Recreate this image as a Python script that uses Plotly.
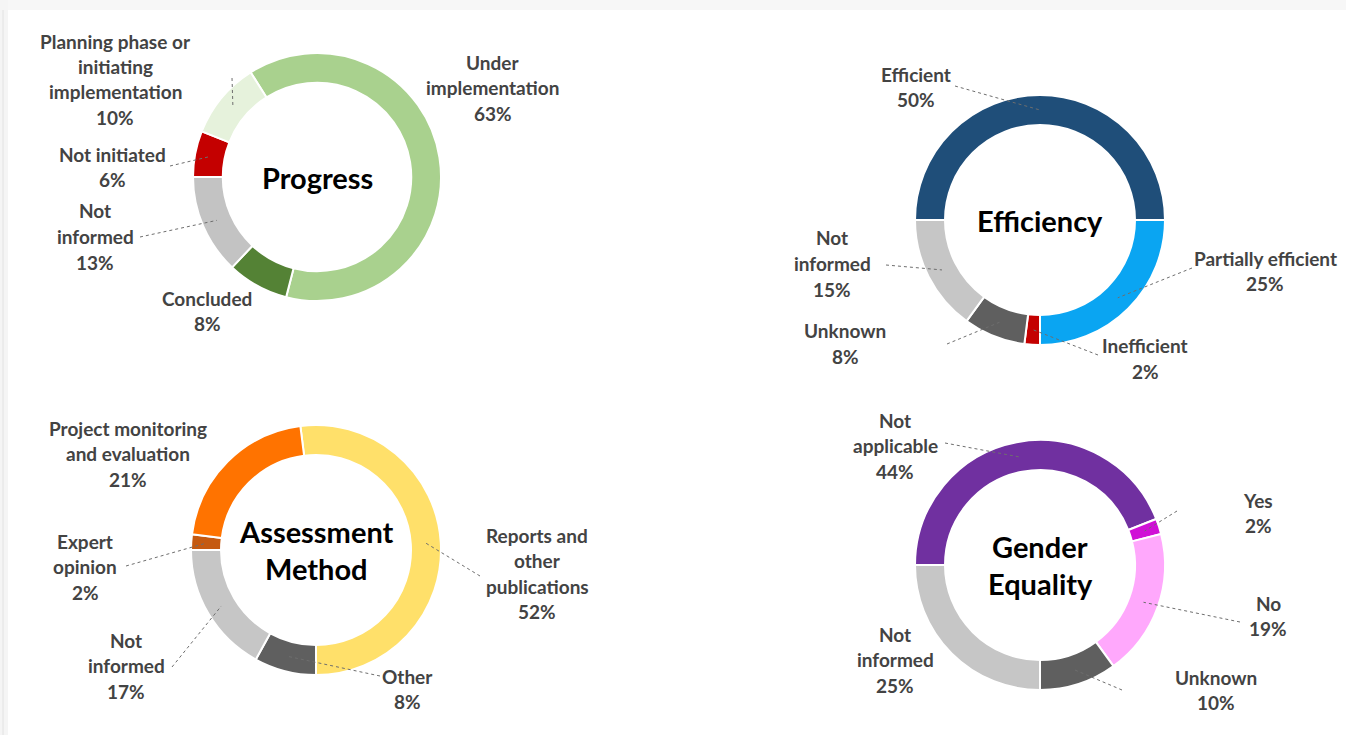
import math
import plotly.graph_objects as go

W, H = 1346, 735

# ---------------- data ----------------
progress_labels = ["Under implementation", "Concluded", "Not informed", "Not initiated",
                   "Planning phase or initiating implementation"]
progress_values = [63, 8, 13, 6, 10]
progress_colors = ["#a9d18e", "#548235", "#c3c3c3", "#c40000", "#e6f2dc"]

efficiency_labels = ["Efficient", "Partially efficient", "Inefficient", "Unknown", "Not informed"]
efficiency_values = [50, 25, 2, 8, 15]
efficiency_colors = ["#1f4e79", "#0aa5f2", "#c40000", "#5f5f5f", "#c6c6c6"]

method_labels = ["Reports and other publications", "Other", "Not informed", "Expert opinion",
                 "Project monitoring and evaluation"]
method_values = [52, 8, 17, 2, 21]
method_colors = ["#ffe06a", "#5f5f5f", "#c6c6c6", "#c55a11", "#ff7300"]

gender_labels = ["Not applicable", "Yes", "No", "Unknown", "Not informed"]
gender_values = [44, 2, 19, 10, 25]
gender_colors = ["#7030a0", "#d010d6", "#ffa8fc", "#5f5f5f", "#c6c6c6"]

# ---------------- layout (pixel positions) ----------------
# chart: (title lines, labels, values, colors, center x, center y, radius, rotation)
charts = [
    (["Progress"], progress_labels, progress_values, progress_colors, 317, 177, 124, 327.6),
    (["Efficiency"], efficiency_labels, efficiency_values, efficiency_colors, 1040, 220, 125, 270),
    (["Assessment", "Method"], method_labels, method_values, method_colors, 316, 550, 125, 352.8),
    (["Gender", "Equality"], gender_labels, gender_values, gender_colors, 1040, 565, 125, 270),
]
HOLE = 0.76

# label placement per chart, in slice order: (text lines, center x, first-line y, leader outer end or None)
label_layout = [
    [
        (["Under", "implementation"], 493, 62, None),
        (["Concluded"], 207, 298, None),
        (["Not", "informed"], 95, 211, (140, 237)),
        (["Not initiated"], 112, 154, (170, 166)),
        (["Planning phase or", "initiating", "implementation"], 115, 41, (232, 78)),
    ],
    [
        (["Efficient"], 916, 74, (955, 86)),
        (["Partially efficient"], 1265, 258, (1192, 268)),
        (["Inefficient"], 1145, 346, (1098, 355)),
        (["Unknown"], 845, 331, (947, 344)),
        (["Not", "informed"], 832, 238, (886, 265)),
    ],
    [
        (["Reports and", "other", "publications"], 537, 535, (480, 576)),
        (["Other"], 408, 676, (380, 676)),
        (["Not", "informed"], 126, 640, (172, 667)),
        (["Expert", "opinion"], 85, 541, (126, 566)),
        (["Project monitoring", "and evaluation"], 128, 428, None),
    ],
    [
        (["Not", "applicable"], 895, 420, (945, 443)),
        (["Yes"], 1258, 500, (1177, 511)),
        (["No"], 1268, 603, (1240, 622)),
        (["Unknown"], 1216, 677, (1122, 690)),
        (["Not", "informed"], 895, 634, None),
    ],
]

LINE_H = 25.5
LABEL_FONT = dict(family="Lato, Open Sans, sans-serif", size=19, color="#434343", weight="bold")
TITLE_FONT = dict(family="Lato, Open Sans, sans-serif", size=29, color="#000000", weight="bold")


def px(x):
    return x / W


def py(y):
    return 1 - y / H


fig = go.Figure()
annotations = []
shapes = []

# page frame
shapes.append(dict(type="rect", xref="paper", yref="paper", x0=0, x1=1, y0=py(10), y1=1,
                   fillcolor="#f7f7f7", line=dict(width=0), layer="below"))
shapes.append(dict(type="rect", xref="paper", yref="paper", x0=0, x1=px(8), y0=0, y1=1,
                   fillcolor="#f5f5f5", line=dict(width=0), layer="below"))
shapes.append(dict(type="line", xref="paper", yref="paper", x0=px(3), x1=px(3), y0=0, y1=py(10),
                   line=dict(color="#e2e2e2", width=1), layer="below"))

for ci, (title, labels, values, colors, cx, cy, r, rot) in enumerate(charts):
    fig.add_trace(go.Pie(
        labels=labels, values=values, hole=HOLE, sort=False, direction="clockwise",
        rotation=rot, marker=dict(colors=colors, line=dict(color="white", width=2)),
        textinfo="none", hoverinfo="label+percent", showlegend=False,
        domain=dict(x=[px(cx - r), px(cx + r)], y=[py(cy + r), py(cy - r)]),
    ))
    # title in the hole
    n = len(title)
    for li, t in enumerate(title):
        ty = cy + (li - (n - 1) / 2) * 37
        annotations.append(dict(text=t, x=px(cx), y=py(ty), xref="paper", yref="paper",
                                showarrow=False, font=TITLE_FONT, xanchor="center", yanchor="middle"))
    total = sum(values)
    start = rot
    rm = r * (1 + HOLE) / 2
    for si, (lab, v) in enumerate(zip(labels, values)):
        mid = start + 360 * v / total / 2
        start += 360 * v / total
        lines, lx, ly, lead = label_layout[ci][si]
        pct = f"{round(100 * v / total)}%"
        all_lines = lines + [pct]
        for li, t in enumerate(all_lines):
            annotations.append(dict(text=t, x=px(lx), y=py(ly + li * LINE_H), xref="paper", yref="paper",
                                    showarrow=False, font=LABEL_FONT, xanchor="center", yanchor="middle"))
        if lead is not None:
            a = math.radians(mid)
            sx = cx + rm * math.sin(a)
            sy = cy - rm * math.cos(a)
            shapes.append(dict(type="line", xref="paper", yref="paper",
                               x0=px(lead[0]), y0=py(lead[1]), x1=px(sx), y1=py(sy),
                               line=dict(color="#6e6e6e", width=1, dash="3px,3px")))

fig.update_layout(
    width=W, height=H, margin=dict(l=0, r=0, t=0, b=0),
    paper_bgcolor="white", plot_bgcolor="white",
    annotations=annotations, shapes=shapes,
)

fig.write_html("out.html", config={"displayModeBar": False},
               post_script="document.body.style.margin='0';document.body.style.overflow='hidden';")
